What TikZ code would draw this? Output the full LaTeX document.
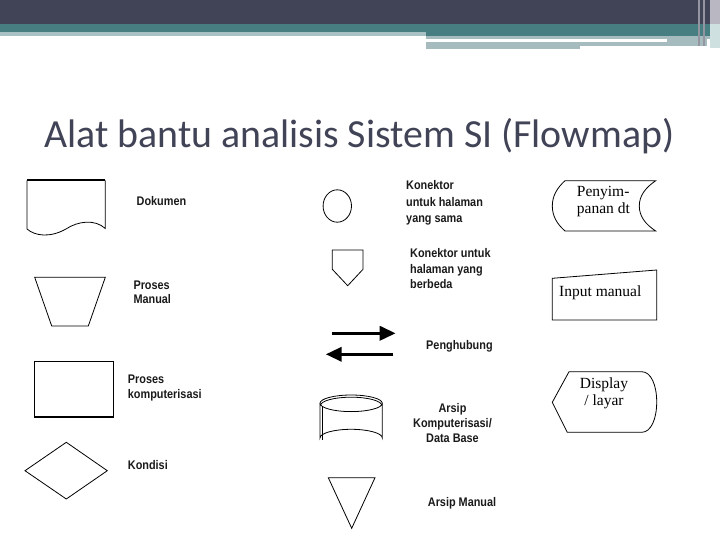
\documentclass[tikz,border=0pt]{standalone}
\usepackage{fontspec}
\setmainfont{Liberation Serif}
\setsansfont{Liberation Sans}
\newfontfamily\titlefont{Carlito}
\usetikzlibrary{arrows.meta}
\definecolor{hdark}{HTML}{414356}
\definecolor{hteal}{HTML}{477E82}
\definecolor{hlight}{HTML}{A7C1C4}
\definecolor{hgray}{HTML}{A5BBBE}
\definecolor{hside}{HTML}{B9B8C2}
\definecolor{hsidet}{HTML}{CFE0E0}
\definecolor{titlecol}{HTML}{414356}
\definecolor{lblcol}{HTML}{1A1A1A}
\newcommand{\mylbl}[3]{\fontsize{12.5}{#2}\selectfont\scalebox{0.87}[1]{\begin{tabular}{@{}#1@{}}#3\end{tabular}}}
\tikzset{
  shp/.style={draw=black, line width=0.8pt, fill=white},
  lbl/.style={font=\sffamily\bfseries, text=lblcol, inner sep=0pt, anchor=west},
  slbl/.style={font=\rmfamily\fontsize{15.5}{16.5}\selectfont, inner sep=0pt, align=center},
  conn/.style={line width=3.5pt, -{Triangle[length=16pt,width=14pt]}},
}
\begin{document}
\begin{tikzpicture}[x=1pt,y=-1pt]
\useasboundingbox[fill=white] (0,0) rectangle (720,540);
% header
\fill[hdark] (0,0) rectangle (720,24);
\fill[hteal] (0,24) rectangle (720,32);
\fill[hlight] (0,32) rectangle (426,36);
\fill[hteal] (426,32) rectangle (720,36);
\fill[hgray] (426,36) rectangle (720,39);
\fill[hgray] (426,42) rectangle (580,49);
\fill[hgray] (580,42) rectangle (707,46);
\fill[hgray] (667,39) rectangle (707,42);
\fill[hside] (710,0) rectangle (720,24);
\fill[hsidet] (710,24) rectangle (720,48);
\fill[hside!70!hdark] (698,0) rectangle (700,46);
\fill[hside!70!hdark] (703,0) rectangle (705,46);
% title
\node[anchor=base west, inner sep=0pt, text=titlecol] (title) at (44,148)
  {\resizebox{630pt}{!}{\titlefont Alat bantu analisis Sistem SI (Flowmap)}};
% Dokumen
\draw[shp] (27,180.3) -- (27,229) .. controls (35,236) and (50,238) .. (66,229)
  .. controls (78,221) and (95,219) .. (105.3,228.5) -- (105.3,180.3);
\draw[line width=1.6pt] (27,180.3) -- (105.3,180.3);
\node[lbl] (ldok) at (136.5,202.3) {\mylbl{l}{15}{Dokumen}};
% Proses manual
\draw[shp] (34.7,277.3) -- (105.3,277.3) -- (88.3,326) -- (51.7,326) -- cycle;
\node[lbl] (lpm) at (133.3,293.8) {\mylbl{l}{14.5}{Proses\\Manual}};
% Proses komputerisasi
\draw[shp] (34,361.7) rectangle (113.7,416.7);
\draw[line width=1.6pt] (34,416.7) -- (113.7,416.7);
\node[lbl] (lpk) at (127.7,387.8) {\mylbl{l}{15.7}{Proses\\komputerisasi}};
% Kondisi
\draw[shp] (25,470.7) -- (66.3,442.3) -- (107.3,470.7) -- (66.3,499) -- cycle;
\node[lbl] (lkon) at (127.7,466.7) {\mylbl{l}{15}{Kondisi}};
% Konektor halaman sama
\draw[shp] (337.3,206) ellipse [x radius=14.2, y radius=16.2];
\node[lbl] (lks) at (406,203) {\mylbl{l}{16.3}{Konektor\\untuk halaman\\yang sama}};
% Konektor halaman berbeda
\draw[shp] (332.3,250) -- (363,250) -- (363,269.3) -- (347.7,285.7) -- (332.3,269.3) -- cycle;
\node[lbl] (lkb) at (410,270) {\mylbl{l}{15.5}{Konektor untuk\\halaman yang\\berbeda}};
% Penghubung
\coordinate (a1s) at (331.7,333.3);
\coordinate (a1e) at (395.7,333.3);
\coordinate (a2s) at (393.3,354.3);
\coordinate (a2e) at (325.7,354.3);
\draw[conn] (a1s) -- (a1e);
\draw[conn] (a2s) -- (a2e);
\node[lbl] (lph) at (426,346) {\mylbl{l}{15}{Penghubung}};
% Arsip komputerisasi (cylinder)
\draw[shp] (320,403.3) -- (320,438) arc[start angle=180, end angle=360, x radius=31.15, y radius=8.7]
  -- (382.3,403.3);
\draw[shp] (351.15,403.3) ellipse [x radius=31.15, y radius=8.3];
\draw[line width=0.8pt] (320.5,405.5) arc[start angle=180, end angle=360, x radius=30.65, y radius=8.3];
\draw[line width=0.6pt] (322.5,407) -- (322.5,440);
\node[lbl, anchor=center] (lak) at (452.5,424.5) {\mylbl{c}{14.6}{Arsip\\Komputerisasi/\\Data Base}};
% Arsip manual
\draw[shp] (328.3,477.7) -- (375,477.7) -- (351.7,528.3) -- cycle;
\node[lbl] (lam) at (427.7,503.3) {\mylbl{l}{15}{Arsip Manual}};
% Penyimpanan dt
\draw[shp] (565,180.7) -- (655.7,180.7) .. controls (645,188) and (639.3,196) .. (639.3,206)
  .. controls (639.3,216) and (645,224) .. (655.7,231) -- (565,231)
  .. controls (557,224) and (552.3,216) .. (552.3,206)
  .. controls (552.3,196) and (557,188) .. cycle;
\node[slbl, anchor=west, align=left] (lps) at (576.7,201.5) {Penyim-\\panan dt};
% Input manual
\draw[shp] (552.3,278.3) -- (656.7,270) -- (656.7,320) -- (552.3,320) -- cycle;
\node[slbl, anchor=west] (lim) at (559,292.7) {Input manual};
% Display
\draw[shp] (569,371.7) -- (641.7,371.7) .. controls (651,371.7) and (656.7,385) .. (656.7,402)
  .. controls (656.7,419) and (651,432.3) .. (641.7,432.3) -- (567.3,432.3) -- (552.3,402.3) -- cycle;
\node[slbl] (ldis) at (604,393.3) {Display\\/ layar};
\end{tikzpicture}
\end{document}
